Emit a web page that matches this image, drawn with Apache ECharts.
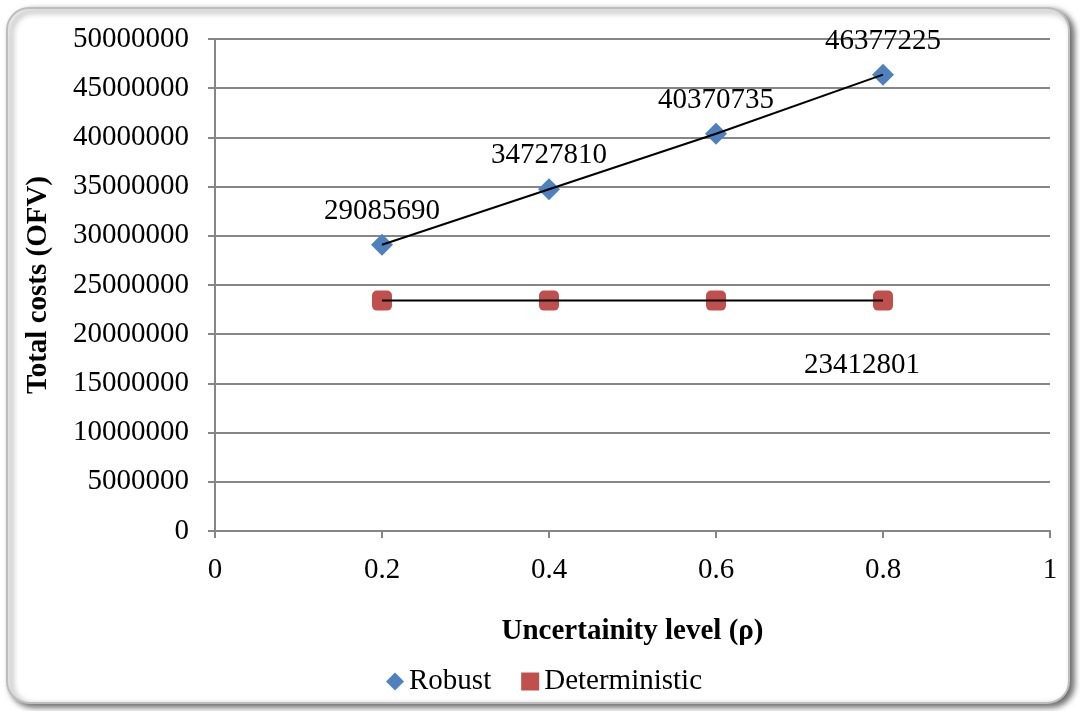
<!DOCTYPE html>
<html>
<head>
<meta charset="utf-8">
<script src="https://cdn.jsdelivr.net/npm/echarts@6/dist/echarts.min.js"></script>
<style>
  html, body { margin: 0; padding: 0; background: #ffffff; }
  #chart { width: 1080px; height: 711px; }
</style>
</head>
<body>
<div id="chart"></div>
<script>
// Uncertainty levels (rho) and total costs (objective function value)
const rhoLevels = [0.2, 0.4, 0.6, 0.8];
const robustCosts = [29085690, 34727810, 40370735, 46377225];
const deterministicCosts = [23412801, 23412801, 23412801, 23412801];
// index of the single labelled deterministic point
const deterministicLabelIndex = 3;

const FONT = '"Liberation Serif", "Times New Roman", serif';
const GRID_COLOR = '#868686';
const TEXT_SIZE = 29;

const robustPoints = rhoLevels.map((x, i) => [x, robustCosts[i]]);
const deterministicPoints = rhoLevels.map((x, i) => [x, deterministicCosts[i]]);

const chart = echarts.init(document.getElementById('chart'), null, { renderer: 'canvas' });

chart.setOption({
  backgroundColor: '#ffffff',
  animation: false,
  graphic: [{
    type: 'rect',
    z: -10,
    silent: true,
    shape: { x: 7, y: 8, width: 1062, height: 695, r: 22 },
    style: {
      fill: '#ffffff',
      stroke: '#bdbdbd',
      lineWidth: 2,
      shadowBlur: 6,
      shadowOffsetX: 4,
      shadowOffsetY: 3,
      shadowColor: 'rgba(0,0,0,0.6)'
    }
  }],
  grid: { left: 215, right: 30, top: 39, bottom: 180, containLabel: false },
  legend: {
    bottom: 10,
    left: 381,
    itemGap: 30,
    itemWidth: 18,
    itemHeight: 18,
    textStyle: { fontFamily: FONT, fontSize: TEXT_SIZE, color: '#000' },
    data: [
      { name: 'Robust', icon: 'diamond' },
      { name: 'Deterministic', icon: 'rect' }
    ]
  },
  xAxis: {
    type: 'value',
    min: 0,
    max: 1,
    interval: 0.2,
    name: 'Uncertainity level (ρ)',
    nameLocation: 'middle',
    nameGap: 86,
    nameTextStyle: { fontFamily: FONT, fontSize: TEXT_SIZE, fontWeight: 'bold', color: '#000' },
    axisLine: { show: true, onZero: false, lineStyle: { color: GRID_COLOR, width: 2 } },
    axisTick: { show: true, inside: false, length: 7, lineStyle: { color: GRID_COLOR, width: 2 } },
    axisLabel: { fontFamily: FONT, fontSize: TEXT_SIZE, color: '#000', margin: 25 },
    splitLine: { show: false }
  },
  yAxis: {
    type: 'value',
    min: 0,
    max: 50000000,
    interval: 5000000,
    name: 'Total costs (OFV)',
    nameLocation: 'middle',
    nameGap: 162,
    nameTextStyle: { fontFamily: FONT, fontSize: TEXT_SIZE, fontWeight: 'bold', color: '#000' },
    axisLine: { show: true, lineStyle: { color: GRID_COLOR, width: 2 } },
    axisTick: { show: true, inside: false, length: 7, lineStyle: { color: GRID_COLOR, width: 2 } },
    axisLabel: {
      fontFamily: FONT, fontSize: TEXT_SIZE, color: '#000', margin: 26,
      formatter: v => String(v)
    },
    splitLine: { show: true, lineStyle: { color: GRID_COLOR, width: 2 } }
  },
  series: [
    {
      name: 'Robust',
      type: 'scatter',
      data: robustPoints,
      symbol: 'diamond',
      symbolSize: 22,
      itemStyle: { color: '#4F81BD', opacity: 1 },
      label: {
        show: true,
        position: 'top',
        distance: 8,
        formatter: p => String(p.value[1]),
        fontFamily: FONT,
        fontSize: TEXT_SIZE,
        color: '#000',
        opacity: 1
      },
      z: 3
    },
    {
      name: 'Deterministic',
      type: 'scatter',
      data: deterministicPoints.map((pt, i) => ({
        value: pt,
        label: {
          show: i === deterministicLabelIndex,
          position: 'bottom',
          distance: 40,
          offset: [-21, 0],
          formatter: p => String(p.value[1]),
          fontFamily: FONT,
          fontSize: TEXT_SIZE,
          color: '#000',
          opacity: 1
        }
      })),
      symbol: 'roundRect',
      symbolSize: 20,
      itemStyle: { color: '#C0504D', opacity: 1, borderRadius: 2 },
      z: 3
    },
    {
      // connecting line drawn over the robust markers
      name: 'Robust line',
      type: 'line',
      data: robustPoints,
      showSymbol: false,
      symbol: 'none',
      lineStyle: { color: '#000', width: 2 },
      z: 5,
      silent: true,
      legendHoverLink: false
    },
    {
      name: 'Deterministic line',
      type: 'line',
      data: deterministicPoints,
      showSymbol: false,
      symbol: 'none',
      lineStyle: { color: '#000', width: 2 },
      z: 5,
      silent: true,
      legendHoverLink: false
    }
  ]
});
</script>
</body>
</html>
